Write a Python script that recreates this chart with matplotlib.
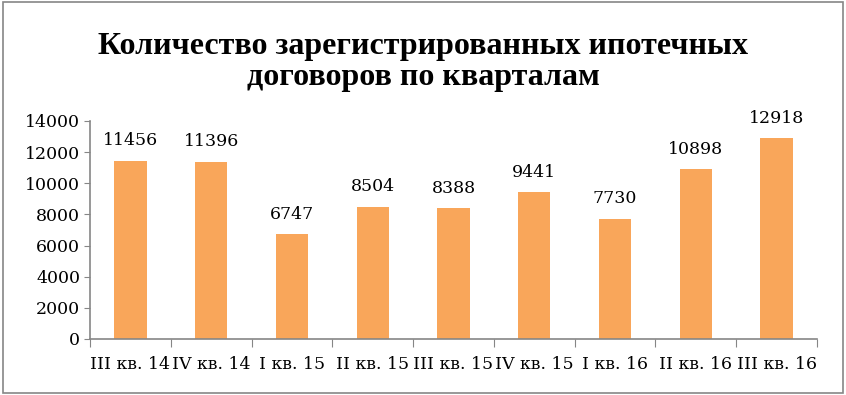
import matplotlib.pyplot as plt
from matplotlib.patches import Rectangle

# data
quarters = ['III кв. 14', 'IV кв. 14', 'I кв. 15', 'II кв. 15', 'III кв. 15',
            'IV кв. 15', 'I кв. 16', 'II кв. 16', 'III кв. 16']
contracts = [11456, 11396, 6747, 8504, 8388, 9441, 7730, 10898, 12918]
yticks = [0, 2000, 4000, 6000, 8000, 10000, 12000, 14000]

plt.rcParams['font.family'] = ['DejaVu Serif']

fig = plt.figure(figsize=(8.46, 3.95), dpi=100)
ax = fig.add_axes([0.1064, 0.1418, 0.8593, 0.552])

pos = [i + 0.5 for i in range(len(quarters))]
ax.bar(pos, contracts, width=0.4, color='#F9A65A', zorder=2)
for x, v in zip(pos, contracts):
    ax.annotate(str(v), (x, v), xytext=(0, 8), textcoords='offset points',
                ha='center', va='bottom', fontsize=12.5)

ax.set_xlim(0, len(quarters))
ax.set_ylim(0, 14000)
ax.set_yticks(yticks)
ax.set_xticks(range(len(quarters) + 1))
ax.set_xticklabels([])
ax.set_xticks(pos, minor=True)
ax.set_xticklabels(quarters, minor=True)
ax.tick_params(axis='x', which='minor', length=0, pad=12, labelsize=12.5)
ax.tick_params(axis='x', which='major', length=6, color='#868686', direction='out')
ax.tick_params(axis='y', length=4, color='#868686', labelsize=12.5, pad=3)

for s in ['top', 'right']:
    ax.spines[s].set_visible(False)
for s in ['left', 'bottom']:
    ax.spines[s].set_color('#868686')
    ax.spines[s].set_linewidth(1.2)

fig.text(0.5, 0.843, 'Количество зарегистрированных ипотечных\nдоговоров по кварталам',
         ha='center', va='center', fontsize=23, fontweight='bold', linespacing=1.08,
         family='Liberation Serif')

fig.patches.append(Rectangle((0.003, 0.006), 0.994, 0.988, transform=fig.transFigure,
                             fill=False, edgecolor='#868686', linewidth=1.2))

fig.savefig('out.png', dpi=100)
